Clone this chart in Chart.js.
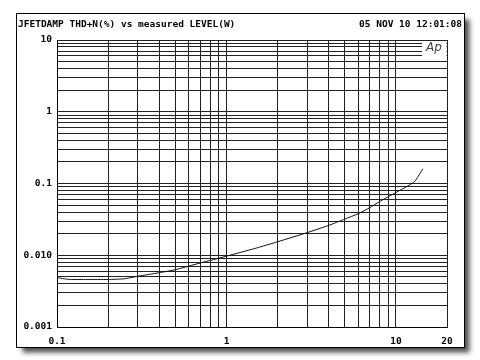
<!DOCTYPE html>
<html>
<head>
<meta charset="utf-8">
<script src="https://cdn.jsdelivr.net/npm/chart.js@4.4.1/dist/chart.umd.min.js"></script>
<style>
  html, body { margin: 0; padding: 0; background: #fff; }
  #wrap { width: 480px; height: 360px; }
</style>
</head>
<body>
<div id="wrap"><canvas id="c" width="480" height="360"></canvas></div>
<script>
// measured output level (W) and THD+N (%)
const levelW = [0.1, 0.11, 0.12, 0.15, 0.2, 0.25, 0.3, 0.4, 0.5, 0.7, 1.0, 1.5, 2.0, 3.0, 4.0, 5.0, 6.0, 7.0, 8.0, 10, 12, 12.9, 13.5, 14.4];
const thdPct = [0.0049, 0.0047, 0.0046, 0.0046, 0.0046, 0.0047, 0.0051, 0.0057, 0.0063, 0.0078, 0.0097, 0.0126, 0.0154, 0.0207, 0.026, 0.032, 0.038, 0.046, 0.056, 0.075, 0.095, 0.107, 0.125, 0.16];

const xTickLabels = ['0.1', '1', '10', '20'];
const yTickLabels = ['0.001', '0.010', '0.1', '1', '10'];
const titleText = 'JFETDAMP THD+N(%) vs measured LEVEL(W)';
const dateText = '05 NOV 10 12:01:08';

const FONT = 'bold 9.5px "DejaVu Sans Mono", "Liberation Mono", monospace';

// grid lines at 1..9 of every decade
function decadeTicks(from, to) {
  const out = [];
  for (let e = from; e < to; e++) {
    for (let m = 1; m <= 9; m++) out.push(+(m * Math.pow(10, e)).toPrecision(3));
  }
  return out;
}
const xGrid = decadeTicks(-1, 1).concat([10, 20]);
const yGrid = decadeTicks(-3, 1).concat([10]);

function labelFor(list) {
  return function (v) {
    const s = list.find(function (l) { return Math.abs(parseFloat(l) - v) < v * 1e-6; });
    return s || '';
  };
}

const framePlugin = {
  id: 'frame',
  beforeDraw: function (chart) {
    const ctx = chart.ctx;
    ctx.save();
    ctx.fillStyle = '#fff';
    ctx.fillRect(0, 0, 480, 360);
    ctx.shadowColor = 'rgba(0,0,0,0.7)';
    ctx.shadowBlur = 5;
    ctx.shadowOffsetX = 5;
    ctx.shadowOffsetY = 5;
    ctx.fillRect(16.5, 13.5, 448, 334);
    ctx.shadowColor = 'transparent';
    ctx.strokeStyle = '#000';
    ctx.lineWidth = 1;
    ctx.strokeRect(16.5, 13.5, 448, 334);
    ctx.fillStyle = '#000';
    ctx.font = FONT;
    ctx.textBaseline = 'middle';
    ctx.textAlign = 'left';
    ctx.fillText(titleText, 18, 25);
    ctx.textAlign = 'right';
    ctx.fillText(dateText, 462, 25);
    ctx.restore();
  },
  afterDraw: function (chart) {
    const a = chart.chartArea;
    const ctx = chart.ctx;
    ctx.save();
    ctx.fillStyle = '#fff';
    ctx.fillRect(a.right - 25, a.top + 1, 24.5, 15);
    ctx.fillStyle = '#444';
    ctx.font = 'italic 12px "DejaVu Sans", sans-serif';
    ctx.textAlign = 'left';
    ctx.textBaseline = 'middle';
    ctx.fillText('Ap', a.right - 21, a.top + 8);
    ctx.restore();
  }
};

new Chart(document.getElementById('c'), {
  type: 'line',
  data: {
    datasets: [{
      data: levelW.map(function (x, i) { return { x: x, y: thdPct[i] }; }),
      borderColor: '#111',
      borderWidth: 1,
      pointRadius: 0,
      tension: 0.2,
      fill: false
    }]
  },
  options: {
    responsive: false,
    animation: false,
    layout: { padding: { left: 0, top: 40, right: 33, bottom: 0 } },
    plugins: { legend: { display: false }, tooltip: { enabled: false } },
    scales: {
      x: {
        type: 'logarithmic',
        min: 0.1,
        max: 20,
        afterBuildTicks: function (s) { s.ticks = xGrid.map(function (v) { return { value: v }; }); },
        afterFit: function (s) { s.height = 33; },
        grid: { color: '#222', lineWidth: 1, drawTicks: false },
        border: { color: '#000', width: 1 },
        ticks: {
          autoSkip: false, maxRotation: 0, minRotation: 0, padding: 9,
          color: '#000', font: { family: '"DejaVu Sans Mono", monospace', size: 9.5, weight: 'bold' },
          callback: labelFor(xTickLabels)
        }
      },
      y: {
        type: 'logarithmic',
        min: 0.001,
        max: 10,
        afterBuildTicks: function (s) { s.ticks = yGrid.map(function (v) { return { value: v }; }); },
        afterFit: function (s) { s.width = 57; },
        grid: { color: '#222', lineWidth: 1, drawTicks: false },
        border: { color: '#000', width: 1 },
        ticks: {
          autoSkip: false, padding: 5,
          color: '#000', font: { family: '"DejaVu Sans Mono", monospace', size: 9.5, weight: 'bold' },
          callback: labelFor(yTickLabels)
        }
      }
    }
  },
  plugins: [framePlugin]
});
</script>
</body>
</html>
